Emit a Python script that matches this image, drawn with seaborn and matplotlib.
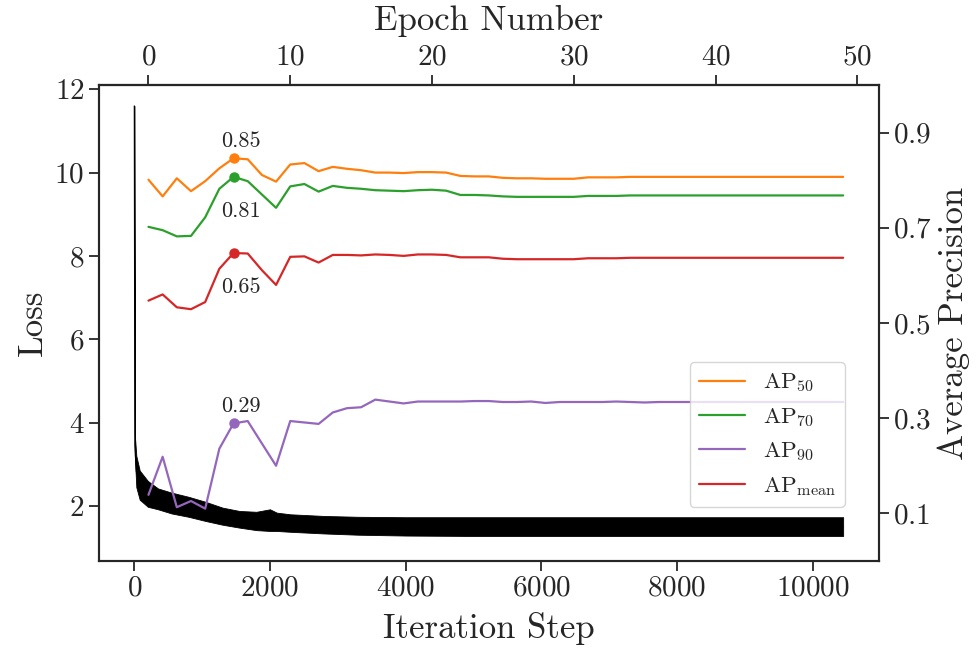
import matplotlib
matplotlib.use("Agg")
from matplotlib import pyplot as plt
import numpy as np
import pandas as pd
import seaborn as sns

loss_steps = [0, 8, 30, 80, 200, 350, 550, 800, 1050, 1300, 1550, 1800, 2000, 2100,
              2300, 2800, 3300, 4000, 5000, 6000, 7000, 8000, 9000, 10000, 10450]
loss_low = [11.6, 3.2, 2.45, 2.15, 1.98, 1.92, 1.82, 1.74, 1.64, 1.55, 1.48, 1.42, 1.40, 1.40,
            1.38, 1.34, 1.31, 1.29, 1.28, 1.28, 1.28, 1.28, 1.28, 1.28, 1.28]
loss_high = [11.6, 3.7, 3.2, 2.85, 2.6, 2.42, 2.32, 2.22, 2.10, 1.96, 1.88, 1.86, 1.92, 1.84,
             1.80, 1.76, 1.74, 1.73, 1.73, 1.73, 1.73, 1.73, 1.73, 1.73, 1.73]

steps_per_epoch = 209
epochs = list(range(50))
ap50 = [0.801, 0.766, 0.804, 0.777, 0.798, 0.825, 0.846, 0.844, 0.811, 0.797,
        0.833, 0.836, 0.819, 0.828, 0.824, 0.821, 0.816, 0.816, 0.815, 0.817,
        0.817, 0.816, 0.809, 0.808, 0.808, 0.805, 0.804, 0.804, 0.803, 0.803,
        0.803, 0.806, 0.806, 0.806, 0.807, 0.807, 0.807, 0.807, 0.807, 0.807,
        0.807, 0.807, 0.807, 0.807, 0.807, 0.807, 0.807, 0.807, 0.807, 0.807]
ap70 = [0.702, 0.695, 0.682, 0.683, 0.722, 0.782, 0.807, 0.798, 0.770, 0.742,
        0.787, 0.792, 0.776, 0.788, 0.784, 0.782, 0.779, 0.778, 0.777, 0.779,
        0.780, 0.778, 0.769, 0.769, 0.768, 0.766, 0.765, 0.765, 0.765, 0.765,
        0.765, 0.767, 0.767, 0.767, 0.768, 0.768, 0.768, 0.768, 0.768, 0.768,
        0.768, 0.768, 0.768, 0.768, 0.768, 0.768, 0.768, 0.768, 0.768, 0.768]
ap90 = [0.139, 0.219, 0.113, 0.126, 0.110, 0.236, 0.289, 0.294, 0.247, 0.200,
        0.294, 0.291, 0.288, 0.312, 0.321, 0.323, 0.339, 0.335, 0.331, 0.335,
        0.335, 0.335, 0.335, 0.336, 0.336, 0.334, 0.334, 0.335, 0.332, 0.334,
        0.334, 0.334, 0.334, 0.335, 0.334, 0.333, 0.334, 0.334, 0.334, 0.334,
        0.334, 0.334, 0.334, 0.334, 0.334, 0.334, 0.334, 0.334, 0.334, 0.334]
apmean = [0.547, 0.560, 0.533, 0.529, 0.544, 0.614, 0.647, 0.646, 0.611, 0.580,
          0.639, 0.640, 0.627, 0.643, 0.643, 0.642, 0.644, 0.643, 0.641, 0.644,
          0.644, 0.643, 0.638, 0.638, 0.638, 0.635, 0.634, 0.634, 0.634, 0.634,
          0.634, 0.636, 0.636, 0.636, 0.637, 0.637, 0.637, 0.637, 0.637, 0.637,
          0.637, 0.637, 0.637, 0.637, 0.637, 0.637, 0.637, 0.637, 0.637, 0.637]

sns.set_style("ticks")
plt.rcParams["font.family"] = "serif"
plt.rcParams["font.serif"] = ["cmr10", "DejaVu Serif"]
plt.rcParams["mathtext.fontset"] = "cm"
plt.rcParams["axes.formatter.use_mathtext"] = True
plt.rcParams["axes.linewidth"] = 1.5

fig, ax = plt.subplots(figsize=(9.79, 6.48), dpi=100)
fig.subplots_adjust(left=0.101, right=0.8974, top=0.8688, bottom=0.1343)

# loss band (min..max of the envelope at each step)
df_loss = pd.DataFrame({"step": loss_steps + loss_steps, "loss": loss_low + loss_high})
sns.lineplot(data=df_loss, x="step", y="loss", estimator="mean", errorbar=("pi", 100),
             color="black", lw=0.8, ax=ax,
             err_kws={"alpha": 1, "linewidth": 0.6, "edgecolor": "black"})
ax.set_xlim(-522, 10972)
ax.set_ylim(0.68, 12.1)
ax.set_xlabel("Iteration Step", fontsize=25, labelpad=7)
ax.set_ylabel("Loss", fontsize=25)

# average precision on a twin axis, evaluated at the end of each epoch
ax_ap = ax.twinx()
ap_steps = [(e + 1) * steps_per_epoch for e in epochs]
series = [(ap50, "#ff7f0e", r"$\mathrm{AP}_{50}$"),
          (ap70, "#2ca02c", r"$\mathrm{AP}_{70}$"),
          (ap90, "#9467bd", r"$\mathrm{AP}_{90}$"),
          (apmean, "#d62728", r"$\mathrm{AP}_{\mathrm{mean}}$")]
for vals, col, lab in series:
    sns.lineplot(x=ap_steps, y=vals, color=col, lw=1.6, label=lab, ax=ax_ap)

best = int(np.argmax(apmean))
offsets = [17, -34, 17, -34]  # above / below the dot, pixels
for (vals, col, lab), dy in zip(series, offsets):
    ax_ap.plot(ap_steps[best], vals[best], "o", color=col, ms=6.5)
    ax_ap.annotate(f"{vals[best]:.2f}", (ap_steps[best], vals[best]),
                   xytext=(7, dy), textcoords="offset pixels",
                   ha="center", va="center", fontsize=16)

ax_ap.set_ylim(0, 1)
ax_ap.set_yticks([0.1, 0.3, 0.5, 0.7, 0.9])
ax_ap.set_ylabel("Average Precision", fontsize=25)
ax_ap.legend(loc="lower right", bbox_to_anchor=(0.957, 0.114), borderaxespad=0,
             fontsize=16.5, handlelength=2.0, frameon=True)

# epoch scale on top
top = ax.secondary_xaxis("top", functions=(lambda s: s / steps_per_epoch - 1,
                                           lambda e: (e + 1) * steps_per_epoch))
top.set_xticks([0, 10, 20, 30, 40, 50])
top.set_xlabel("Epoch Number", fontsize=25, labelpad=10)

for a in (ax, ax_ap, top):
    a.tick_params(labelsize=21, length=7, width=1.3)

plt.savefig("out.png", dpi=100)
